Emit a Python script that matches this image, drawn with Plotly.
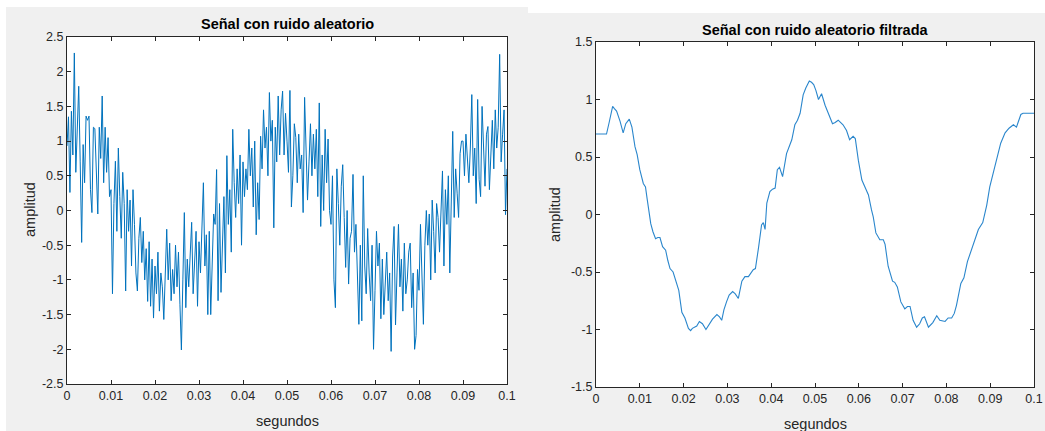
import numpy as np
import plotly.graph_objects as go

W, H = 1045, 431

# ---- data ----
fs = 3000  # samples per second of the hand-read noisy trace
noisy_amplitude = [
    0.93, 1.35, 0.26, 1.43, 0.80, 2.27, 0.55, 1.25, 1.79, 0.70,
    -0.46, 0.95, 0.40, 1.36, 1.30, 1.36, 0.30, -0.03, 1.20, 1.18,
    0.55, -0.05, 1.20, 0.75, 1.65, 0.40, 1.20, 0.55, 1.05, 0.20,
    0.30, -1.20, 0.10, 0.71, -0.30, 0.90, 0.20, -0.40, 0.55, 0.10,
    -1.16, 0.30, -0.30, 0.15, -0.80, 0.30, -0.20, -0.90, -1.16, -0.40,
    -0.10, -0.75, -0.30, -1.00, -0.55, -1.31, -0.45, -1.38, -0.70, -1.55,
    -0.80, -1.20, -0.60, -1.45, -0.90, -1.10, -1.57, -0.70, -0.27, -1.00,
    -0.47, -1.30, -0.85, -1.20, -0.50, -1.10, -0.60, -1.35, -2.01, -1.00,
    -0.03, -1.40, -0.70, -1.10, -0.50, -0.17, -1.20, -0.80, -0.30, -1.38,
    -0.45, -0.90, -0.10, 0.40, -0.80, -0.35, -1.50, -0.30, -1.50, -0.60,
    -0.05, -0.20, 0.59, -1.30, 0.10, -1.18, -0.40, 0.20, -0.90, 0.79,
    -0.20, 0.30, -0.60, 1.17, 0.40, -0.10, 0.60, 0.10, 0.80, -0.50,
    0.70, 0.20, 0.60, 0.30, 1.17, 0.50, 0.90, 0.05, 1.00, -0.35,
    0.40, -0.13, 1.07, 0.60, 1.45, 0.90, 1.20, 0.50, 1.70, 1.00,
    1.30, -0.25, 1.20, 0.70, 1.65, 0.80, 1.45, 1.72, 0.80, 1.40,
    1.00, 0.55, 1.73, 0.05, 0.50, 1.25, 1.05, 0.40, 1.10, 0.60,
    0.80, -0.03, 1.63, 0.90, 0.15, 0.70, 1.25, 0.50, 1.10, 0.60,
    1.17, 0.20, 1.55, -0.23, 0.80, 0.00, 1.17, 0.40, 1.03, 0.00,
    -0.20, 0.50, -1.00, -1.40, 0.60, 0.10, -0.50, 0.35, 0.66, -0.10,
    -0.82, 0.00, -1.06, -0.40, -0.30, 0.52, -0.60, -0.20, -1.00, -1.64,
    -0.50, -1.59, 0.50, -0.80, -1.20, -0.26, -0.90, -1.30, -0.50, -2.00,
    -1.15, -0.30, -0.80, -0.47, -1.56, -0.70, -1.50, -1.00, -0.60, -1.30,
    -0.90, -2.03, -0.67, -0.23, -1.65, -0.90, -0.20, -1.10, -0.70, -1.45,
    -0.47, -1.20, -1.00, -0.60, -0.47, -1.40, -0.90, -2.00, -1.80, -0.85,
    -1.15, -0.20, -0.90, -1.64, -0.50, 0.00, -0.50, -0.05, -1.00, 0.15,
    -0.30, -0.90, 0.10, -0.10, -0.60, 0.00, 0.57, -0.80, 0.30, -0.20,
    0.50, -0.90, 0.00, 1.14, -0.10, 0.60, 0.25, -0.10, 0.82, 1.00,
    1.00, 0.50, 1.10, 0.82, 0.40, 0.90, 1.67, 0.50, 0.90, 0.10,
    1.60, 0.45, 0.20, 1.50, 0.80, 0.35, 1.10, 1.21, 0.30, 0.80,
    1.30, 0.60, 1.45, 0.90, 1.20, 2.25, 0.70, 1.10, 1.45, -0.06,
    0.60,
]
noisy_time = np.arange(len(noisy_amplitude)) / fs

filtered_time = [
    0, 0.0024, 0.0030, 0.0038, 0.0042, 0.0047, 0.0055, 0.0062, 0.0068, 0.0076,
    0.0082, 0.0089, 0.0094, 0.0100, 0.0108, 0.0113, 0.0117, 0.0122, 0.0125, 0.0130,
    0.0136, 0.0141, 0.0146, 0.0152, 0.0159, 0.0164, 0.0169, 0.0176, 0.0183, 0.0189,
    0.0196, 0.0203, 0.0211, 0.0216, 0.0220, 0.0224, 0.0230, 0.0236, 0.0243, 0.0251,
    0.0260, 0.0266, 0.0276, 0.0282, 0.0287, 0.0292, 0.0298, 0.0304, 0.0312, 0.0318,
    0.0325, 0.0333, 0.0340, 0.0348, 0.0359, 0.0364, 0.0371, 0.0378, 0.0382, 0.0386,
    0.0390, 0.0397, 0.0403, 0.0409, 0.0414, 0.0419, 0.0426, 0.0435, 0.0447, 0.0454,
    0.0460, 0.0466, 0.0473, 0.0479, 0.0487, 0.0492, 0.0497, 0.0502, 0.0508, 0.0515,
    0.0523, 0.0530, 0.0540, 0.0546, 0.0553, 0.0564, 0.0572, 0.0579, 0.0587, 0.0592,
    0.0599, 0.0607, 0.0614, 0.0622, 0.0629, 0.0633, 0.0639, 0.0648, 0.0656, 0.0660,
    0.0667, 0.0677, 0.0682, 0.0688, 0.0696, 0.0705, 0.0711, 0.0717, 0.0724, 0.0732,
    0.0739, 0.0745, 0.0750, 0.0759, 0.0769, 0.0778, 0.0785, 0.0797, 0.0804, 0.0812,
    0.0818, 0.0823, 0.0833, 0.0840, 0.0848, 0.0857, 0.0865, 0.0873, 0.0883, 0.0892,
    0.0899, 0.0911, 0.0924, 0.0934, 0.0943, 0.0953, 0.0960, 0.0970, 0.0975, 0.1000,
]
filtered_amplitude = [
    0.70, 0.70, 0.80, 0.94, 0.92, 0.90, 0.81, 0.71, 0.79, 0.83,
    0.76, 0.59, 0.52, 0.39, 0.27, 0.24, 0.13, 0.01, -0.08, -0.15,
    -0.21, -0.20, -0.20, -0.28, -0.31, -0.40, -0.47, -0.50, -0.58, -0.66,
    -0.85, -0.90, -0.99, -1.01, -0.99, -0.98, -0.97, -0.93, -0.95, -1.00,
    -0.95, -0.91, -0.87, -0.89, -0.92, -0.83, -0.76, -0.70, -0.67, -0.69,
    -0.73, -0.58, -0.54, -0.54, -0.48, -0.47, -0.29, -0.09, -0.07, -0.13,
    0.10, 0.20, 0.22, 0.23, 0.39, 0.41, 0.33, 0.53, 0.65, 0.78,
    0.82, 0.88, 1.04, 1.10, 1.16, 1.15, 1.13, 1.08, 1.00, 1.05,
    0.95, 0.89, 0.79, 0.80, 0.82, 0.78, 0.73, 0.65, 0.68, 0.66,
    0.47, 0.30, 0.24, 0.17, 0.04, -0.02, -0.16, -0.22, -0.22, -0.26,
    -0.45, -0.58, -0.59, -0.63, -0.76, -0.82, -0.80, -0.80, -0.92, -0.98,
    -0.95, -0.90, -0.89, -0.98, -0.94, -0.88, -0.92, -0.93, -0.90, -0.90,
    -0.86, -0.79, -0.60, -0.55, -0.41, -0.31, -0.21, -0.13, -0.07, 0.08,
    0.24, 0.43, 0.62, 0.71, 0.75, 0.78, 0.76, 0.87, 0.88, 0.88,
]

x_tickvals = [0, 0.01, 0.02, 0.03, 0.04, 0.05, 0.06, 0.07, 0.08, 0.09, 0.1]
x_ticktext = ["0", "0.01", "0.02", "0.03", "0.04", "0.05", "0.06", "0.07", "0.08", "0.09", "0.1"]
y1_tickvals = [-2.5, -2, -1.5, -1, -0.5, 0, 0.5, 1, 1.5, 2, 2.5]
y1_ticktext = ["-2.5", "-2", "-1.5", "-1", "-0.5", "0", "0.5", "1", "1.5", "2", "2.5"]
y2_tickvals = [-1.5, -1, -0.5, 0, 0.5, 1, 1.5]
y2_ticktext = ["-1.5", "-1", "-0.5", "0", "0.5", "1", "1.5"]

title_left = "Señal con ruido aleatorio"
title_right = "Señal con ruido aleatorio filtrada"
x_label = "segundos"
y_label = "amplitud"

# ---- layout helpers (pixel -> paper) ----
def px(x):
    return x / W

def py(y):
    return 1 - y / H

FONT = "Liberation Sans, Arial, Helvetica, sans-serif"
LINE_COLOR = "#0072BD"
AX_COLOR = "#262626"

fig = go.Figure()
fig.add_trace(go.Scatter(x=noisy_time, y=noisy_amplitude, mode="lines",
                         line=dict(color=LINE_COLOR, width=1),
                         xaxis="x", yaxis="y", showlegend=False, hoverinfo="skip"))
fig.add_trace(go.Scatter(x=filtered_time, y=filtered_amplitude, mode="lines",
                         line=dict(color="#2a86cc", width=1.1),
                         xaxis="x2", yaxis="y2", showlegend=False, hoverinfo="skip"))

axis_common = dict(showline=True, linecolor=AX_COLOR, linewidth=1, mirror="allticks",
                   ticks="inside", ticklen=4, tickwidth=1, tickcolor=AX_COLOR,
                   showgrid=False, zeroline=False, fixedrange=True, automargin=False,
                   tickfont=dict(family=FONT, size=12.5, color=AX_COLOR))

fig.update_layout(
    template="none",
    width=W, height=H, margin=dict(l=0, r=0, t=0, b=0, pad=0), autosize=False,
    paper_bgcolor="white", plot_bgcolor="white",
    xaxis=dict(domain=[px(67), px(507)], range=[0, 0.1], anchor="y",
               tickmode="array", tickvals=x_tickvals, ticktext=x_ticktext, **axis_common),
    yaxis=dict(domain=[py(384), py(37)], range=[-2.5, 2.5], anchor="x",
               tickmode="array", tickvals=y1_tickvals, ticktext=y1_ticktext, **axis_common),
    xaxis2=dict(domain=[px(596), px(1034)], range=[0, 0.1], anchor="y2",
                tickmode="array", tickvals=x_tickvals, ticktext=x_ticktext, **axis_common),
    yaxis2=dict(domain=[py(387), py(42)], range=[-1.5, 1.5], anchor="x2",
                tickmode="array", tickvals=y2_tickvals, ticktext=y2_ticktext, **axis_common),
    shapes=[
        dict(type="rect", xref="paper", yref="paper", x0=px(6), x1=px(528), y0=py(431), y1=py(7),
             fillcolor="#f0f0f0", line=dict(width=0), layer="below"),
        dict(type="rect", xref="paper", yref="paper", x0=px(528), x1=px(1045), y0=py(431), y1=py(13),
             fillcolor="#f0f0f0", line=dict(width=0), layer="below"),
        dict(type="rect", xref="paper", yref="paper", x0=px(67), x1=px(507), y0=py(384), y1=py(37),
             fillcolor="white", line=dict(width=0), layer="below"),
        dict(type="rect", xref="paper", yref="paper", x0=px(596), x1=px(1034), y0=py(387), y1=py(42),
             fillcolor="white", line=dict(width=0), layer="below"),
    ],
)

ann = []
ann.append(dict(text="<b>" + title_left + "</b>", x=px(287), y=py(24), xref="paper", yref="paper",
                showarrow=False, xanchor="center", yanchor="middle",
                font=dict(family=FONT, size=14.5, color="#000000")))
ann.append(dict(text="<b>" + title_right + "</b>", x=px(815), y=py(30), xref="paper", yref="paper",
                showarrow=False, xanchor="center", yanchor="middle",
                font=dict(family=FONT, size=14.5, color="#000000")))
ann.append(dict(text=x_label, x=px(287), y=py(421), xref="paper", yref="paper",
                showarrow=False, xanchor="center", yanchor="middle",
                font=dict(family=FONT, size=14.5, color=AX_COLOR)))
ann.append(dict(text=x_label, x=px(815), y=py(424), xref="paper", yref="paper",
                showarrow=False, xanchor="center", yanchor="middle",
                font=dict(family=FONT, size=14.5, color=AX_COLOR)))
ann.append(dict(text=y_label, x=px(30), y=py(210), xref="paper", yref="paper",
                showarrow=False, xanchor="center", yanchor="middle", textangle=-90,
                font=dict(family=FONT, size=14.5, color=AX_COLOR)))
ann.append(dict(text=y_label, x=px(555), y=py(215), xref="paper", yref="paper",
                showarrow=False, xanchor="center", yanchor="middle", textangle=-90,
                font=dict(family=FONT, size=14.5, color=AX_COLOR)))
fig.update_layout(annotations=ann)

fig.write_html("out.html", config={"displayModeBar": False},
               post_script="document.body.style.margin='0';")
